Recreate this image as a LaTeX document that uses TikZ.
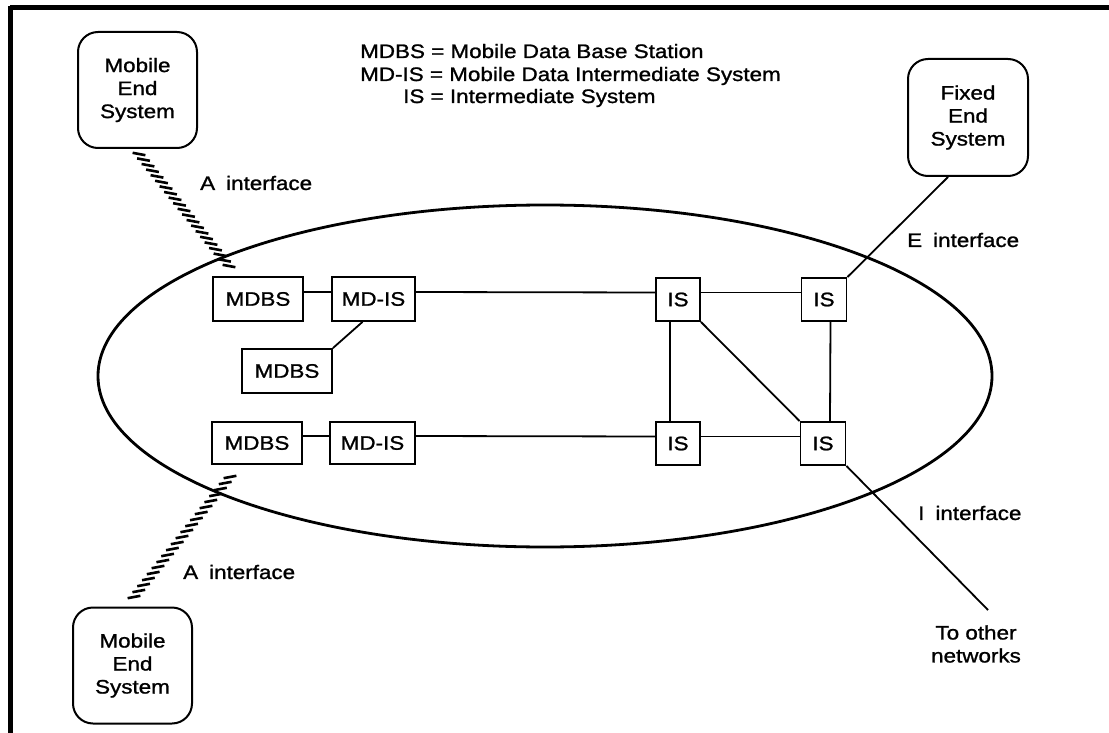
\documentclass[tikz,border=0pt]{standalone}
\usepackage{fontspec}
\setmainfont{Liberation Sans}[FakeStretch=1.15,FakeBold=1.2]
\usetikzlibrary{calc}
\begin{document}
\begin{tikzpicture}[x=1pt,y=-1pt,
  every node/.style={font=\fontsize{19.5}{23}\selectfont},
  box/.style={draw,line width=1.8pt,inner sep=0pt,minimum height=44pt},
  endsys/.style={draw,line width=2pt,rounded corners=20pt,inner sep=0pt,align=center,minimum width=119pt,minimum height=116pt},
  link/.style={line width=1.8pt},
  lbl/.style={anchor=west,inner sep=0pt},
  hatch/.style={line width=2.6pt}]
\useasboundingbox (0,0) rectangle (1109,733);
% frame
\draw[line width=5pt] (10,8) -- (1109,8);
\draw[line width=5pt] (10,6) -- (10,733);
% ellipse
\draw[line width=2.8pt] (545,376) ellipse [x radius=447, y radius=171];
% legend
\node[anchor=base west,inner sep=0pt] (leg1) at (360,58) {MDBS = Mobile Data Base Station};
\node[anchor=base west,inner sep=0pt] (leg2) at (360,81) {MD-IS = Mobile Data Intermediate System};
\node[anchor=base west,inner sep=0pt] (leg3) at (403,103) {IS = Intermediate System};
% end systems
\node[endsys] (mes1) at (137.5,90) {Mobile\\End\\System};
\node[endsys] (mes2) at (132.5,665.5) {Mobile\\End\\System};
\node[endsys,minimum width=120pt,minimum height=117pt] (fes) at (968,117.5) {Fixed\\End\\System};
% boxes
\node[box,minimum width=90pt] (mdbs1) at (258,299) {MDBS};
\node[box,minimum width=83pt] (mdis1) at (373.5,299) {MD-IS};
\node[box,minimum width=90pt] (mdbs2) at (287,371) {MDBS};
\node[box,minimum width=90pt,minimum height=42pt] (mdbs3) at (257,443) {MDBS};
\node[box,minimum width=85pt,minimum height=42pt] (mdis2) at (372.5,443) {MD-IS};
\node[box,minimum width=44pt,minimum height=43pt] (is1) at (678,299.5) {IS};
\node[box,minimum width=45pt,minimum height=43pt] (is2) at (824,299.5) {IS};
\node[box,minimum width=44pt,minimum height=43pt] (is3) at (678,443.5) {IS};
\node[box,minimum width=45pt,minimum height=43pt] (is4) at (823,443.5) {IS};
% connectors
\draw[link] ([yshift=7pt]mdbs1.east) -- ([yshift=7pt]mdis1.west);
\draw[link] ([yshift=7pt]mdis1.east) -- ([yshift=7pt]is1.west);
\draw[link] ([yshift=7pt]is1.east) -- ([yshift=7pt]is2.west);
\draw[link] ([yshift=7pt]mdbs3.east) -- ([yshift=7pt]mdis2.west);
\draw[link] ([yshift=7pt]mdis2.east) -- ([yshift=7pt]is3.west);
\draw[link] ([yshift=7pt]is3.east) -- ([yshift=7pt]is4.west);
\draw[link] ([xshift=-11pt]mdis1.south) -- (mdbs2.north east);
\draw[link] ([xshift=-8pt]is1.south) -- ([xshift=-8pt]is3.north);
\draw[link] ([xshift=6.5pt]is2.south) -- ([xshift=7pt]is4.north);
\draw[link] (is1.south east) -- (is4.north west);
\draw[link] ([xshift=-20pt]fes.south) -- (is2.north east);
\coordinate (tonet) at (988,610);
\draw[link] (is4.south east) -- (tonet);
\node[align=center,inner sep=0pt] (tonettext) at (976,644) {To other\\networks};
% hatched A interfaces
\coordinate (h1s) at (139,154);
\coordinate (h1e) at (229,266);
\coordinate (h2s) at (134,597);
\coordinate (h2e) at (230,477);
\foreach \t in {0,0.05,...,1.001}
  \draw[hatch] ($(h1s)!\t!(h1e)+(-6.4,-1.2)$) -- ++(12.8,2.4);
\foreach \t in {0,0.05,...,1.001}
  \draw[hatch] ($(h2s)!\t!(h2e)+(-6.4,1.2)$) -- ++(12.8,-2.4);
% labels
\node[lbl] (la1) at (200,183) {A\hspace{11pt}interface};
\node[lbl] (la2) at (183,572) {A\hspace{11pt}interface};
\node[lbl] (le) at (907,240) {E\hspace{11pt}interface};
\node[lbl] (li) at (918,513) {I\hspace{11pt}interface};
\end{tikzpicture}
\end{document}
